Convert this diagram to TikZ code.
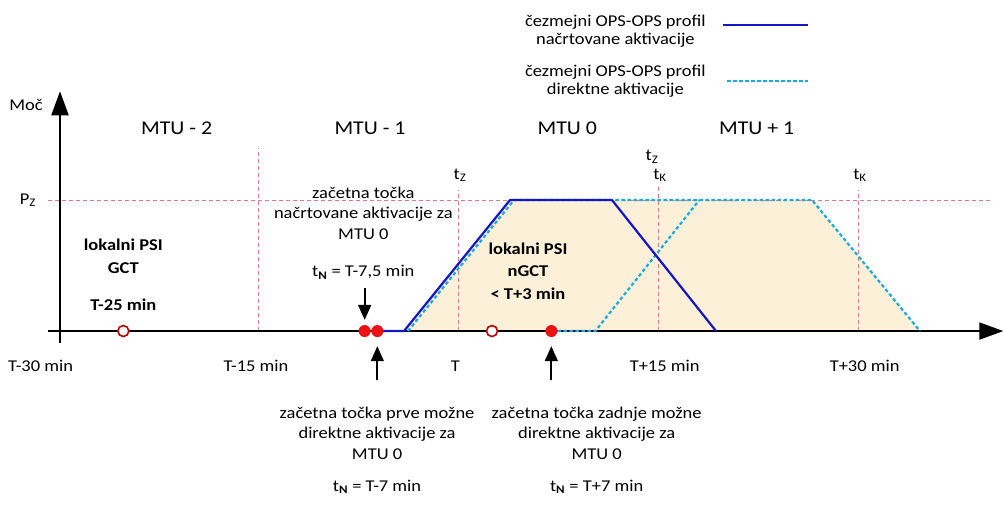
\documentclass[tikz,border=0pt]{standalone}
\usepackage{fontspec}
\setmainfont{Carlito}[FakeStretch=1.12]
\usetikzlibrary{arrows.meta}

\definecolor{planblue}{HTML}{1414C8}
\definecolor{directcyan}{HTML}{1AAAE0}
\definecolor{gridred}{HTML}{E07A8A}
\definecolor{areafill}{HTML}{FCF1D8}
\definecolor{dotred}{HTML}{EE1111}
\definecolor{ringred}{HTML}{C00000}

\begin{document}
\begin{tikzpicture}[x=13.333pt,y=131pt,
  txt/.style={font=\fontsize{16.5}{20.5}\selectfont,align=center,inner sep=0pt},
  boldtxt/.style={font=\fontsize{16.5}{22.5}\selectfont\bfseries,align=center,inner sep=0pt},
  legtxt/.style={font=\fontsize{16.5}{18}\selectfont,align=center,inner sep=0pt},
  mtu/.style={font=\fontsize{19.5}{22}\selectfont,inner sep=0pt},
  grid/.style={gridred,dash pattern=on 4pt off 3pt,line width=0.7pt},
  plan/.style={planblue,line width=2.2pt,line join=round},
  direct/.style={directcyan,line width=2.2pt,dash pattern=on 3.5pt off 2.5pt},
  dot/.style={circle,fill=dotred,inner sep=0pt,minimum size=12pt},
  ring/.style={circle,draw=ringred,fill=white,line width=1.6pt,inner sep=0pt,minimum size=11pt},
  axis/.style={line width=2pt,-{Triangle[length=24pt,width=17pt]}},
  marker/.style={line width=1.8pt,-{Triangle[length=15pt,width=13pt]}}]

  \useasboundingbox (-34.35,-1.351) rectangle (40.95,2.527);

  % activation area under the profiles
  \fill[areafill] (-4,0) -- (4,1) -- (26.55,1) -- (34.65,0) -- cycle;

  % P_Z level and MTU borders
  \draw[grid] (-30.75,1) -- (39.9,1);
  \foreach \t/\top in {-15/1.4, 0/1.08, 15/1.12, 30/1.08}
    \draw[grid] (\t,0) -- (\t,\top);

  % axes
  \draw[axis] (-30.75,0) -- (40.9,0);
  \draw[axis] (-29.85,-0.09) -- (-29.85,1.83);
  \node[txt] (moc) at (-32.4,1.725) {Moč};
  \node[txt] (pz) at (-32.25,1.0) {P\textsubscript{Z}};

  % MTU names
  \node[mtu] (mtu2) at (-21.1,1.55) {MTU - 2};
  \node[mtu] (mtu1) at (-6.6,1.55) {MTU - 1};
  \node[mtu] (mtu0) at (8.2,1.55) {MTU 0};
  \node[mtu] (mtup1) at (22.4,1.55) {MTU + 1};

  % time labels
  \foreach \t/\lbl in {-31.3/T-30 min, -15.15/T-15 min, -0.2/T, 15.5/T+15 min, 30.5/T+30 min}
    \node[txt] at (\t,-0.267) {\lbl};
  \node[txt] (tz1) at (0.15,1.19) {t\textsubscript{Z}};
  \node[txt] (tz2) at (14.55,1.33) {t\textsubscript{Z}};
  \node[txt] (tk1) at (15.15,1.19) {t\textsubscript{K}};
  \node[txt] (tk2) at (30.15,1.19) {t\textsubscript{K}};

  % profiles: direct (dashed) below, planned (solid) on top
  \draw[direct] (-3.75,0) -- (4.2,1) -- (26.55,1) -- (34.65,0);
  \draw[direct] (7,0) -- (10.3,0) -- (18.1,1);
  \draw[plan] (-6.1,0) -- (-4.05,0) -- (3.9,1) -- (11.55,1) -- (19.35,0);

  % gate closures and start points
  \node[ring] (gct) at (-25.1,0) {};
  \node[ring] (ngct) at (2.55,0) {};
  \node[dot] (plstart) at (-7,0) {};
  \node[dot] (firststart) at (-6.05,0) {};
  \node[dot] (laststart) at (7,0) {};

  \node[boldtxt] (gcttxt) at (-25.1,0.57) {lokalni PSI\\GCT};
  \node[boldtxt] (gcttime) at (-25.1,0.2) {T-25 min};
  \node[boldtxt] (ngcttxt) at (5.25,0.458) {lokalni PSI\\nGCT\\< T+3 min};

  \node[txt] (pltxt) at (-7.1,0.9) {začetna točka\\načrtovane aktivacije za\\MTU 0};
  \node[txt] (pltime) at (-7.1,0.45) {t\textsubscript{\textbf{N}} = T-7,5 min};
  \coordinate (plsrc) at (-7,0.33);
  \draw[marker,shorten >=5pt] (plsrc) -- (plstart.north);

  \node[txt] (firsttxt) at (-6.07,-0.78) {začetna točka prve možne\\direktne aktivacije za\\MTU 0};
  \node[txt] (firsttime) at (-6.07,-1.19) {t\textsubscript{\textbf{N}} = T-7 min};
  \coordinate (firstsrc) at (-6.05,-0.374);
  \draw[marker,shorten >=9pt] (firstsrc) -- (firststart.south);

  \node[txt] (lasttxt) at (10.4,-0.78) {začetna točka zadnje možne\\direktne aktivacije za\\MTU 0};
  \node[txt] (lasttime) at (10.4,-1.19) {t\textsubscript{\textbf{N}} = T+7 min};
  \coordinate (lastsrc) at (7,-0.374);
  \draw[marker,shorten >=9pt] (lastsrc) -- (laststart.south);

  % legend
  \node[legtxt] (legplan) at (11.8,2.29) {čezmejni OPS-OPS profil\\načrtovane aktivacije};
  \coordinate (legplana) at (19.9,2.336);
  \coordinate (legplanb) at (26.25,2.336);
  \draw[plan] (legplana) -- (legplanb);
  \node[legtxt] (legdirect) at (11.8,1.908) {čezmejni OPS-OPS profil\\direktne aktivacije};
  \coordinate (legdira) at (20.2,1.908);
  \coordinate (legdirb) at (26.25,1.908);
  \draw[direct] (legdira) -- (legdirb);

\end{tikzpicture}
\end{document}
